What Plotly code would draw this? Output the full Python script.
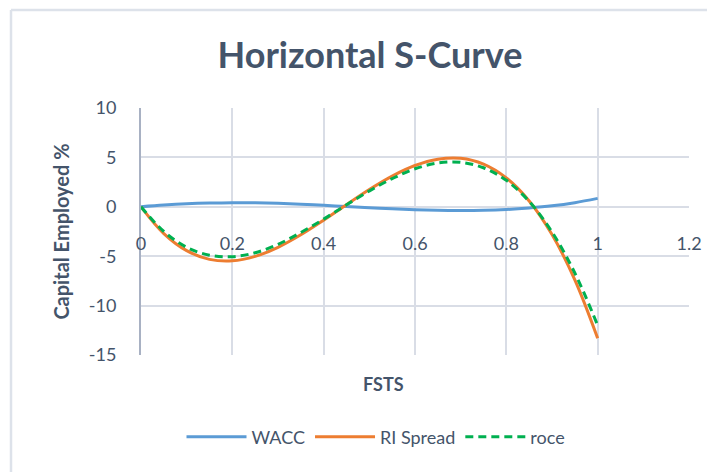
import plotly.graph_objects as go

fsts = [0, 0.05, 0.1, 0.15, 0.2, 0.25, 0.3, 0.35, 0.4, 0.45, 0.5,
        0.55, 0.6, 0.65, 0.7, 0.75, 0.8, 0.85, 0.9, 0.95, 1.0]
wacc = [0, 0.17, 0.30, 0.38, 0.42, 0.41, 0.36, 0.27, 0.15, 0.02, -0.10,
        -0.21, -0.30, -0.36, -0.38, -0.36, -0.28, -0.12, 0.10, 0.42, 0.85]
ri_spread = [0, -2.71, -4.44, -5.32, -5.47, -5.02, -4.10, -2.83, -1.35, 0.22, 1.75,
             3.11, 4.18, 4.82, 4.91, 4.32, 2.92, 0.59, -2.81, -7.39, -13.30]
roce = [0, -2.50, -4.10, -4.90, -5.05, -4.65, -3.80, -2.60, -1.25, 0.20, 1.60,
        2.85, 3.85, 4.43, 4.50, 3.95, 2.68, 0.54, -2.55, -6.70, -12.00]

x_ticks = [0, 0.2, 0.4, 0.6, 0.8, 1, 1.2]
x_tick_text = ["0", "0.2", "0.4", "0.6", "0.8", "1", "1.2"]
y_ticks = [-15, -10, -5, 0, 5, 10]
y_tick_text = ["-15", "-10", "-5", "0", "5", "10"]

TEXT = "#44546a"
GRID = "#d9dde6"
FONT = "Lato"

fig = go.Figure()
fig.add_trace(go.Scatter(x=fsts, y=wacc, name="WACC", mode="lines",
                         line=dict(color="#5b9bd5", width=3, shape="spline")))
fig.add_trace(go.Scatter(x=fsts, y=ri_spread, name="RI Spread", mode="lines",
                         line=dict(color="#ed7d31", width=3, shape="spline")))
fig.add_trace(go.Scatter(x=fsts, y=roce, name="roce", mode="lines",
                         line=dict(color="#00b050", width=3, shape="spline", dash="8px,5px")))

# invisible trace to activate the label axis that sits at y=0
fig.add_trace(go.Scatter(x=[0, 1.2], y=[0, 0], xaxis="x2", mode="lines",
                         line=dict(width=0), showlegend=False, hoverinfo="skip"))

OFF = 8  # page body margin
W, H = 715 - OFF, 472 - OFF
L, T = 141 - OFF, 108 - OFF
R = W - (689 - OFF)
B = H - (355 - OFF)
pw = W - L - R
ph = H - T - B

def px(xp):
    return (xp - OFF - L) / pw

def py(yp):
    return (H - B - (yp - OFF)) / ph

fig.update_layout(
    width=W, height=H,
    margin=dict(l=L, r=R, t=T, b=B),
    paper_bgcolor="white", plot_bgcolor="white",
    font=dict(family=FONT, color=TEXT, size=18),
    title=dict(text="<b>Horizontal S-Curve</b>", x=px(370), xref="paper",
               xanchor="center", y=1 - (55 - OFF) / H, yanchor="middle",
               font=dict(size=36, color=TEXT, family=FONT)),
    xaxis=dict(range=[0, 1.2], tickvals=x_ticks, showticklabels=False,
               showgrid=True, gridcolor=GRID, gridwidth=1.5,
               zeroline=False, showline=False, ticks=""),
    xaxis2=dict(range=[0, 1.2], overlaying="x", anchor="free", position=0.6,
                side="bottom", tickvals=x_ticks, ticktext=x_tick_text,
                showgrid=False, zeroline=False, showline=False, ticks="",
                ticklabelstandoff=24, tickfont=dict(size=18, color=TEXT)),
    yaxis=dict(range=[-15, 10], tickvals=y_ticks, ticktext=y_tick_text,
               showgrid=True, gridcolor=GRID,
               gridwidth=1.5, zeroline=True, zerolinecolor=GRID, zerolinewidth=1.5,
               showline=True, linecolor="#a8b1c3", linewidth=2, ticks="",
               ticklabelstandoff=19, tickfont=dict(size=18, color=TEXT),
               title=dict(text="<b>Capital Employed %</b>", standoff=14,
                          font=dict(size=20, color=TEXT))),
    legend=dict(orientation="h", x=px(376), xanchor="center", y=py(437),
                yanchor="middle", font=dict(size=18, color=TEXT),
                itemwidth=60, bgcolor="rgba(0,0,0,0)"),
    showlegend=True,
)

fig.add_annotation(text="<b>FSTS</b>", x=px(383), y=py(397), xref="paper", yref="paper",
                   showarrow=False, font=dict(size=18, color=TEXT))

# chart-area border (left & top edges visible)
fig.add_shape(type="line", xref="paper", yref="paper", x0=px(11), x1=px(11),
              y0=py(10), y1=py(480), line=dict(color="#dde2ea", width=2.5))
fig.add_shape(type="line", xref="paper", yref="paper", x0=px(11), x1=px(730),
              y0=py(10), y1=py(10), line=dict(color="#dde2ea", width=2.5))

fig.write_html("out.html")
